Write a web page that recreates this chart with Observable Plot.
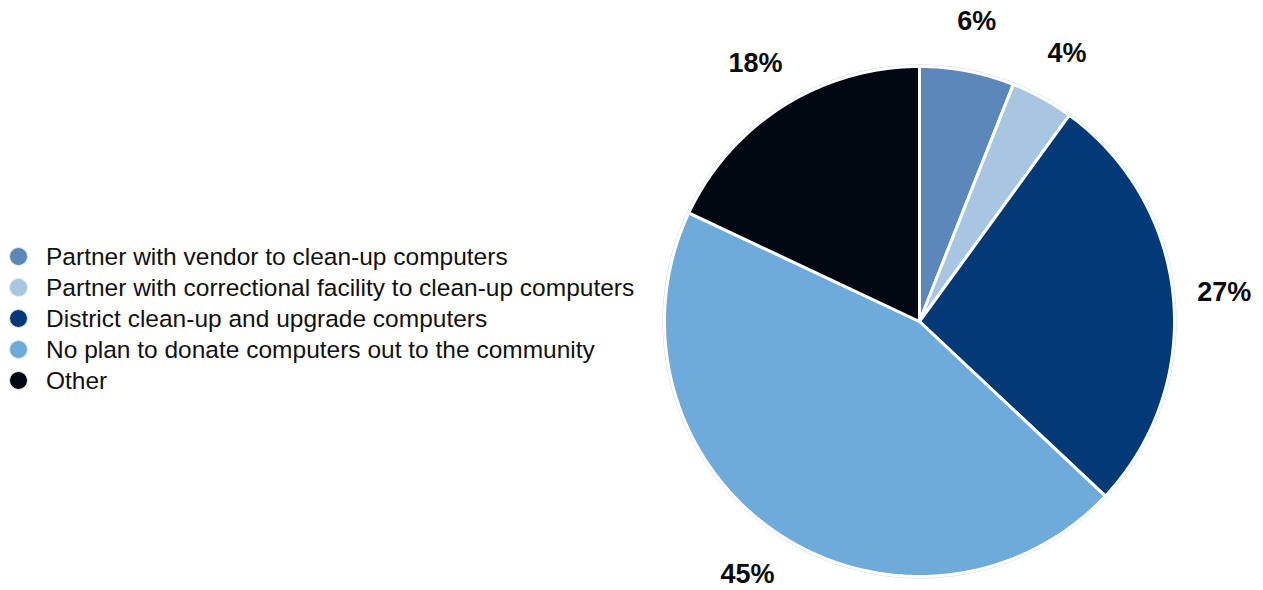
<!DOCTYPE html>
<html>
<head>
<meta charset="utf-8">
<script src="https://cdn.jsdelivr.net/npm/d3@7"></script>
<script src="https://cdn.jsdelivr.net/npm/@observablehq/plot@0.6"></script>
<style>
  html, body { margin: 0; padding: 0; background: #fff; }
  #wrap { position: relative; width: 1263px; height: 590px; overflow: hidden; }
  #chart { position: absolute; left: 0; top: 0; }
  #legend { position: absolute; left: 9px; top: 241px; font-family: "Liberation Sans", Arial, Helvetica, sans-serif; font-size: 24.5px; color: #111; }
  .row { display: flex; align-items: center; height: 31px; white-space: nowrap; }
  .sw { width: 17px; height: 17px; border-radius: 50%; box-sizing: content-box; border: 1.5px solid #dfe7f0; margin-right: 18px; flex: none; }
</style>
</head>
<body>
<div id="wrap">
  <div id="chart"></div>
  <div id="legend"></div>
</div>
<script>
const categories = [
  "Partner with vendor to clean-up computers",
  "Partner with correctional facility to clean-up computers",
  "District clean-up and upgrade computers",
  "No plan to donate computers out to the community",
  "Other"
];
const values = [6, 4, 27, 45, 18];
const labels = ["6%", "4%", "27%", "45%", "18%"];
const colors = ["#5b88b9", "#a6c6e2", "#013a77", "#6eabda", "#020812"];

const arcs = d3.pie().sort(null).value(d => d)(values);

function arcPoints(a0, a1, r) {
  const n = Math.max(2, Math.ceil((a1 - a0) / 0.01));
  const pts = [];
  for (let i = 0; i <= n; i++) {
    const a = a0 + (a1 - a0) * i / n;
    pts.push([r * Math.sin(a), r * Math.cos(a)]);
  }
  return pts;
}

const wedges = arcs.map((a, i) => ({
  type: "Feature",
  properties: {category: categories[i], color: colors[i]},
  geometry: {type: "Polygon", coordinates: [[[0, 0], ...arcPoints(a.startAngle, a.endAngle, 1), [0, 0]]]}
}));

const outline = {type: "LineString", coordinates: arcPoints(0, 2 * Math.PI, 1.006)};

const labelData = arcs.map((a, i) => {
  const m = (a.startAngle + a.endAngle) / 2;
  return {label: labels[i], x: 1.2 * Math.sin(m), y: 1.2 * Math.cos(m)};
});

const plot = Plot.plot({
  width: 1263,
  height: 590,
  marginLeft: 664,
  marginRight: 89,
  marginTop: 66,
  marginBottom: 14,
  projection: {
    type: "reflect-y",
    clip: false,
    domain: {type: "MultiPoint", coordinates: [[-1, -1], [1, 1]]}
  },
  marks: [
    Plot.geo([outline], {stroke: "#c9d8e8", strokeWidth: 1, fill: "none"}),
    Plot.geo(wedges, {fill: d => d.properties.color, stroke: "white", strokeWidth: 3, strokeLinejoin: "round"}),
    Plot.text(labelData, {
      x: "x", y: "y", text: "label",
      fontSize: 27, fontWeight: "bold", fill: "#0a0a0a",
      fontFamily: "Liberation Sans, Arial, Helvetica, sans-serif",
      textAnchor: "middle", lineAnchor: "middle"
    })
  ]
});
document.getElementById("chart").appendChild(plot);

const legend = document.getElementById("legend");
categories.forEach((c, i) => {
  const row = document.createElement("div");
  row.className = "row";
  const sw = document.createElement("span");
  sw.className = "sw";
  sw.style.background = colors[i];
  const t = document.createElement("span");
  t.textContent = c;
  row.appendChild(sw);
  row.appendChild(t);
  legend.appendChild(row);
});
</script>
</body>
</html>
